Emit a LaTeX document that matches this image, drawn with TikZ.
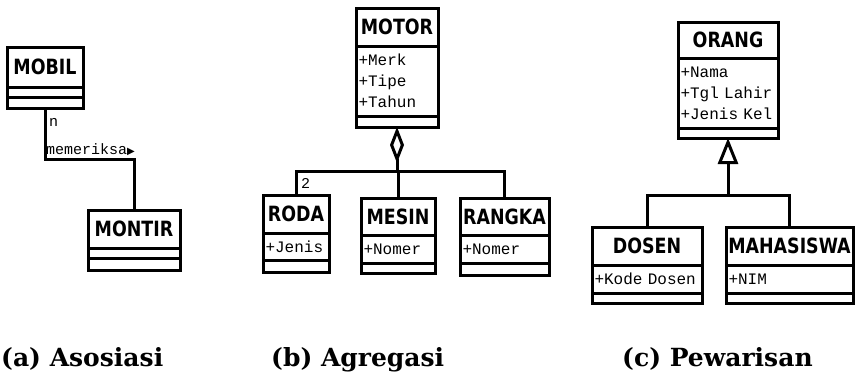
\documentclass[tikz,border=0pt]{standalone}
\usepackage{fontspec}
\setmainfont{Liberation Sans}
\newfontfamily\titlefont[FakeStretch=0.83]{DejaVu Sans}
\newfontfamily\attrfont{Liberation Mono}
\newfontfamily\capfont{DejaVu Serif}
\newfontfamily\symfont{DejaVu Sans}
\usetikzlibrary{positioning,arrows.meta}

\tikzset{
  % one compartment of a class box
  cls/.style={draw, line width=3pt, outer sep=0pt, inner sep=0pt, minimum width=#1},
  title/.style={cls=#1, anchor=north west,
    font=\titlefont\bfseries\fontsize{21}{21}\selectfont},
  attr/.style={cls=#1, inner xsep=2.5pt, text width=#1-5pt, align=left,
    font=\attrfont\fontsize{16}{21}\selectfont},
  link/.style={line width=3pt},
  lbl/.style={anchor=west, inner sep=0pt, font=\attrfont\fontsize{15}{15}\selectfont},
  caption/.style={anchor=base west, inner sep=0pt,
    font=\capfont\bfseries\fontsize{25}{25}\selectfont}
}

\begin{document}
\begin{tikzpicture}[x=1pt, y=-1pt]
  \useasboundingbox (0,0) rectangle (856,378);

  % (a) association
  \node[title=76pt, minimum height=40pt] (mobil) at (7,47) {MOBIL};
  \node[cls=76pt, minimum height=10pt, below=0pt of mobil] (mobil_attr) {};
  \node[cls=76pt, minimum height=11pt, below=0pt of mobil_attr] (mobil_op) {};

  \node[title=92pt, minimum height=38pt] (montir) at (88,210) {MONTIR};
  \node[cls=92pt, minimum height=10pt, below=0pt of montir] (montir_attr) {};
  \node[cls=92pt, minimum height=12pt, below=0pt of montir_attr] (montir_op) {};

  \draw[link] (mobil_op.south) -- ++(0,51) -| (montir.north);
  \node[lbl] (mobil_n) at (49,122) {n};
  \node[lbl] (assoc_name) at (46,150) {memeriksa{\symfont\fontsize{10}{10}\selectfont ▶}};

  % (b) aggregation
  \node[title=82pt, minimum height=38pt] (motor) at (356,8) {MOTOR};
  \node[attr=82pt, minimum height=70pt, below=0pt of motor] (motor_attr) {+Merk\\+Tipe\\+Tahun};
  \node[cls=82pt, minimum height=11pt, below=0pt of motor_attr] (motor_op) {};

  \node[title=66pt, minimum height=38pt] (roda) at (263,195) {RODA};
  \node[attr=66pt, minimum height=27pt, below=0pt of roda] (roda_attr) {+Jenis};
  \node[cls=66pt, minimum height=12pt, below=0pt of roda_attr] (roda_op) {};

  \node[title=74pt, minimum height=37pt] (mesin) at (361,198) {MESIN};
  \node[attr=74pt, minimum height=28pt, below=0pt of mesin] (mesin_attr) {+Nomer};
  \node[cls=74pt, minimum height=10pt, below=0pt of mesin_attr] (mesin_op) {};

  \node[title=89pt, minimum height=37pt] (rangka) at (460,198) {RANGKA};
  \node[attr=89pt, minimum height=28pt, below=0pt of rangka] (rangka_attr) {+Nomer};
  \node[cls=89pt, minimum height=12pt, below=0pt of rangka_attr] (rangka_op) {};

  \draw[link, {Diamond[open, length=36pt, width=14pt]}-] (motor_op.south) -- ++(0,44) coordinate (motor_join);
  \draw[link] (motor_join) -| (roda.north);
  \draw[link] (motor_join) -| (mesin.north);
  \draw[link] (motor_join) -| (rangka.north);
  \node[lbl] (roda_mult) at (301,183) {2};

  % (c) inheritance
  \node[title=100pt, minimum height=36pt] (orang) at (678,22) {ORANG};
  \node[attr=100pt, minimum height=70pt, below=0pt of orang] (orang_attr) {+Nama\\+Tgl Lahir\\+Jenis Kel};
  \node[cls=100pt, minimum height=10pt, below=0pt of orang_attr] (orang_op) {};

  \node[title=110pt, minimum height=38pt] (dosen) at (592,227) {DOSEN};
  \node[attr=110pt, minimum height=28pt, below=0pt of dosen] (dosen_attr) {+Kode Dosen};
  \node[cls=110pt, minimum height=10pt, below=0pt of dosen_attr] (dosen_op) {};

  \node[title=127pt, minimum height=38pt] (mahasiswa) at (726,227) {MAHASISWA};
  \node[attr=127pt, minimum height=28pt, below=0pt of mahasiswa] (mahasiswa_attr) {+NIM};
  \node[cls=127pt, minimum height=10pt, below=0pt of mahasiswa_attr] (mahasiswa_op) {};

  \draw[link, {Triangle[open, length=26pt, width=20pt]}-] (orang_op.south) -- ++(0,57) coordinate (orang_join);
  \draw[link] (orang_join) -| (dosen.north);
  \draw[link] (orang_join) -| (mahasiswa.north);

  % captions
  \node[caption] (cap_a) at (1,366) {(a) Asosiasi};
  \node[caption] (cap_b) at (271,366) {(b) Agregasi};
  \node[caption] (cap_c) at (622,366) {(c) Pewarisan};
\end{tikzpicture}
\end{document}
